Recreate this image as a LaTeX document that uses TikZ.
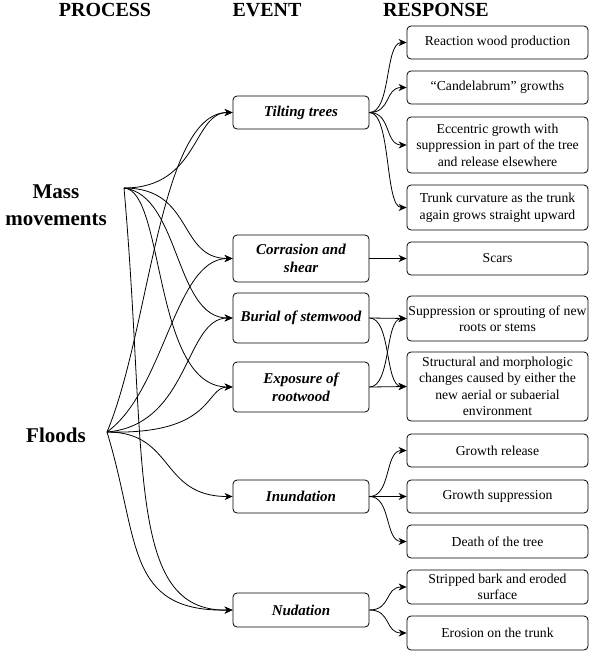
\documentclass[tikz,border=0pt]{standalone}
\usepackage{fontspec}
\setmainfont{Liberation Serif}
\usetikzlibrary{arrows.meta}

\begin{document}
\begin{tikzpicture}[x=1pt,y=-1pt,
  head/.style={font=\fontsize{20}{24}\selectfont\bfseries},
  proc/.style={font=\fontsize{21}{27}\selectfont\bfseries,align=center},
  event/.style={draw,rounded corners=4pt,line width=0.8pt,minimum width=136pt,
    align=center,inner sep=1pt,font=\fontsize{15}{18}\selectfont\bfseries\itshape},
  resp/.style={draw,rounded corners=4pt,line width=0.8pt,minimum width=181pt,
    align=center,inner sep=1pt,font=\fontsize{13.7}{16.5}\selectfont},
  link/.style={line width=0.8pt,-{Stealth[length=8pt,width=7pt,inset=2.5pt]}},
  fan/.style={to path={.. controls +(22,0) and +(-22,0) .. (\tikztotarget)}}]

\useasboundingbox (0,0) rectangle (593,654);

% Column headings
\node[head] (hproc) at (105,10) {PROCESS};
\node[head] (hevent) at (267,10) {EVENT};
\node[head] (hresp) at (436,10) {RESPONSE};

% Processes
\node[proc] (mass) at (56,205) {Mass\\movements};
\node[proc] (flood) at (56,435) {Floods};
\coordinate (mm) at (124,188);
\coordinate (fl) at (107,432);

% Events
\node[event,minimum height=33pt] (tilt) at (301,112.5) {Tilting trees};
\node[event,minimum height=47pt] (corr) at (301,258.5) {Corrasion and\\shear};
\node[event,minimum height=50pt] (burial) at (301,318) {Burial of stemwood};
\node[event,minimum height=50pt] (expo) at (301,387) {Exposure of\\rootwood};
\node[event,minimum height=33pt] (inun) at (301,496.5) {Inundation};
\node[event,minimum height=34pt] (nud) at (301,610) {Nudation};

% Responses
\node[resp,minimum height=33pt] (r1) at (497.5,42.5) {Reaction wood production};
\node[resp,minimum height=33pt] (r2) at (497.5,87.5) {“Candelabrum” growths};
\node[resp,minimum height=56pt] (r3) at (497.5,145) {Eccentric growth with\\suppression in part of the tree\\and release elsewhere};
\node[resp,minimum height=45pt] (r4) at (497.5,207.5) {Trunk curvature as the trunk\\again grows straight upward};
\node[resp,minimum height=33pt] (r5) at (497.5,258.5) {Scars};
\node[resp,minimum height=45pt] (r6) at (497.5,318.5) {Suppression or sprouting of new\\roots or stems};
\node[resp,minimum height=69pt] (r7) at (497.5,386.5) {Structural and morphologic\\changes caused by either the\\new aerial or subaerial\\environment};
\node[resp,minimum height=33pt] (r8) at (497.5,450.5) {Growth release};
\node[resp,minimum height=33pt] (r9) at (497.5,496.5) {Growth suppression};
\node[resp,minimum height=33pt] (r10) at (497.5,541.5) {Death of the tree};
\node[resp,minimum height=34pt] (r11) at (497.5,587) {Stripped bark and eroded\\surface};
\node[resp,minimum height=34pt] (r12) at (497.5,633) {Erosion on the trunk};

% Mass movements -> events
\draw[link] (mm) .. controls +(75,0) and +(-40,0) .. (tilt.west);
\draw[link] (mm) .. controls +(70,0) and +(-55,0) .. (corr.west);
\draw[link] (mm) .. controls +(56,7) and +(-58,0) .. (burial.west);
\draw[link] (mm) .. controls +(41,2) and +(-80,0) .. (expo.west);
\draw[link] (mm) .. controls +(24,272) and +(-108,2) .. (nud.west);

% Floods -> events
\draw[link] (fl) .. controls +(43,-102) and +(-73,0) .. (tilt.west);
\draw[link] (fl) .. controls +(58,-42) and +(-58,0) .. (corr.west);
\draw[link] (fl) .. controls +(83,-7) and +(-48,0) .. (burial.west);
\draw[link] (fl) .. controls +(108,3) and +(-28,0) .. (expo.west);
\draw[link] (fl) .. controls +(68,0) and +(-73,0) .. (inun.west);
\draw[link] (fl) .. controls +(33,108) and +(-108,2) .. (nud.west);

% Events -> responses
\draw[link] (tilt.east) to[fan] (r1.west);
\draw[link] (tilt.east) to[fan] (r2.west);
\draw[link] (tilt.east) to[fan] (r3.west);
\draw[link] (tilt.east) to[fan] (r4.west);
\draw[link] (corr.east) -- (r5.west);
\draw[link] (burial.east) -- (r6.west);
\draw[link] (burial.east) to[fan] (r7.west);
\draw[link] (expo.east) -- (r7.west);
\draw[link] (expo.east) to[fan] (r6.west);
\draw[link] (inun.east) to[fan] (r8.west);
\draw[link] (inun.east) -- (r9.west);
\draw[link] (inun.east) to[fan] (r10.west);
\draw[link] (nud.east) to[fan] (r11.west);
\draw[link] (nud.east) to[fan] (r12.west);
\end{tikzpicture}
\end{document}
